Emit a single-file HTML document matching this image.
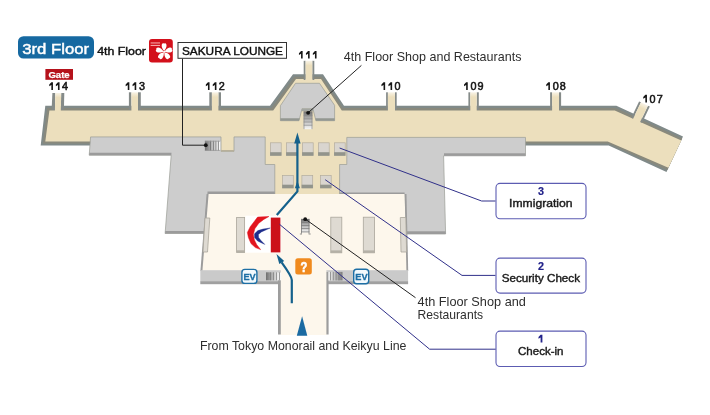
<!DOCTYPE html>
<html><head><meta charset="utf-8">
<style>
html,body{margin:0;padding:0;background:#fff;}
body{width:710px;height:415px;overflow:hidden;position:relative;font-family:"Liberation Sans",sans-serif;}
svg{position:absolute;left:0;top:0;display:block;will-change:transform;}
text{font-family:"Liberation Sans",sans-serif;}
</style></head><body>
<svg width="710" height="415" viewBox="0 0 710 415">
<defs>
<linearGradient id="chan" x1="0" y1="0" x2="0" y2="1">
<stop offset="0" stop-color="#f8f3e6"/><stop offset="0.25" stop-color="#ecdfbd"/><stop offset="1" stop-color="#ecdfbd"/>
</linearGradient>
<linearGradient id="escH" x1="0" y1="0" x2="1" y2="0">
<stop offset="0" stop-color="#6f6f6f"/><stop offset="0.35" stop-color="#a8a8a8"/><stop offset="0.75" stop-color="#e8e8e8"/><stop offset="1" stop-color="#fafafa"/>
</linearGradient>
<linearGradient id="escHr" x1="1" y1="0" x2="0" y2="0">
<stop offset="0" stop-color="#7a7a7a"/><stop offset="0.4" stop-color="#b0b0b0"/><stop offset="1" stop-color="#f4f4f4"/>
</linearGradient>
<linearGradient id="escV" x1="0" y1="0" x2="0" y2="1">
<stop offset="0" stop-color="#6a6a6a"/><stop offset="0.35" stop-color="#a8a8a8"/><stop offset="1" stop-color="#f6f6f6"/>
</linearGradient>
</defs>
<!-- concourse -->
<polygon fill="#808a89" points="45.3,105.8 270,105.8 293,74.3 323,74.3 344,105.8 616.4,105.8 683,136.6 666.5,172 608.7,145.6 40.7,145.6"/>
<polygon fill="#89897c" points="47.3,108 271.7,108 294.5,76.7 321.8,76.7 342.8,108 615.5,108 682.2,138.6 667.4,170 608.2,143.6 43,143.6"/>
<polygon fill="#ecdfbd" points="49.4,110.5 273.2,110.5 296,79.1 321,79.1 341.8,110.5 614.8,110.5 681.3,140.6 668.4,167.8 607.7,141.5 45.3,141.5"/>
<!-- jetways -->
<g fill="#858b89">
<rect x="128.9" y="92.3" width="2.5" height="17.7"/><rect x="138.0" y="92.3" width="2.8" height="17.7"/>
<rect x="209.3" y="92.3" width="2.6" height="17.7"/><rect x="218.4" y="92.3" width="2.6" height="17.7"/>
<rect x="303.7" y="60.8" width="1.9" height="19.2"/><rect x="312.3" y="60.8" width="2.0" height="19.2"/>
<rect x="386.1" y="92.3" width="1.8" height="17.7"/><rect x="395.0" y="92.3" width="1.7" height="17.7"/>
<rect x="468.4" y="92.3" width="1.9" height="17.7"/><rect x="476.7" y="92.3" width="2.1" height="17.7"/>
<rect x="550.1" y="92.3" width="2.0" height="17.7"/><rect x="559.0" y="92.3" width="2.1" height="17.7"/>
<polygon points="52.4,93 55.3,93 54.9,110 51.6,110"/><polygon points="61.2,93 64.3,93 63.9,110 60.8,110"/>
<g transform="translate(644.5,104) rotate(25.5)"><rect x="-6" y="0" width="2.1" height="18"/><rect x="3.8" y="0" width="2.1" height="18"/></g>
</g>
<g fill="url(#chan)">
<rect x="131.4" y="92.3" width="6.6" height="18.9"/>
<rect x="211.9" y="92.3" width="6.5" height="18.9"/>
<rect x="305.6" y="60.8" width="6.7" height="19.2"/>
<rect x="387.9" y="92.3" width="7.1" height="18.9"/>
<rect x="470.3" y="92.3" width="6.4" height="18.9"/>
<rect x="552.1" y="92.3" width="6.9" height="18.9"/>
<polygon points="55.3,93 61.2,93 60.8,111.2 54.9,111.2"/>
<g transform="translate(644.5,104) rotate(25.5)"><rect x="-3.9" y="0" width="7.7" height="19.6"/></g>
</g>
<!-- hump inner lounge -->
<polygon fill="#cdcdcd" stroke="#9a9c95" stroke-width="0.7" points="295.5,83.3 319.5,83.3 334.6,105.3 334.6,120.7 315.9,120.7 312.9,108.7 302,108.7 299,120.7 280.4,120.7 280.4,105.7"/>
<polygon fill="#939791" points="280.4,118.2 299.6,118.2 299,120.7 280.4,120.7"/>
<polygon fill="#939791" points="315.3,118.2 334.6,118.2 334.6,120.7 315.9,120.7"/>
<polygon fill="#a3a6a1" points="302,108.7 312.9,108.7 313.5,111.2 301.4,111.2"/>
<!-- escalator in notch -->
<rect x="303.7" y="111.4" width="8.6" height="17.8" fill="url(#escV)"/>
<g stroke="#8a8a8a" stroke-width="0.7">
<line x1="303.7" y1="115.5" x2="312.3" y2="115.5"/><line x1="303.7" y1="118.8" x2="312.3" y2="118.8"/>
<line x1="303.7" y1="122" x2="312.3" y2="122"/><line x1="303.7" y1="125.2" x2="312.3" y2="125.2"/>
<line x1="304" y1="111.4" x2="304" y2="129.2"/><line x1="312" y1="111.4" x2="312" y2="129.2"/>
</g>
<!-- central beige -->
<rect x="218" y="136" width="20" height="16.5" fill="#ecdfbd"/>
<rect x="262" y="136" width="88" height="60" fill="#ecdfbd"/>
<!-- left gray block -->
<polygon fill="#cdcdcd" stroke="#9a9c95" stroke-width="0.7" points="90.6,136.9 221,136.9 221,151.3 234,151.3 234,136.9 265.2,136.9 265.2,164.5 274.8,164.5 274.8,194 207.5,194 204.3,233.5 165.1,233.5 171.2,155.2 89.2,155.2"/>
<polygon fill="#9b9b9b" points="89.4,152.7 171.5,152.7 171.3,155.2 89.2,155.2"/>
<polygon fill="#9b9b9b" points="165.3,231 204.5,231 204.3,233.5 165.1,233.5"/>
<rect x="207.5" y="191.5" width="67.3" height="2.5" fill="#9b9b9b"/>
<rect x="221" y="150" width="13" height="1.5" fill="#b8b09a"/>
<!-- right gray block -->
<polygon fill="#cdcdcd" stroke="#9a9c95" stroke-width="0.7" points="346.8,137.4 525.5,137.4 525.5,155.8 443.6,155.8 445.6,234 404.6,234 404.6,195 339.6,195 339.6,164.5 346.8,164.5"/>
<rect x="444" y="153.3" width="81.5" height="2.5" fill="#9b9b9b"/>
<rect x="404.6" y="231.3" width="41" height="2.7" fill="#9b9b9b"/>
<rect x="339.6" y="192.5" width="65" height="2.5" fill="#9b9b9b"/>
<!-- squares -->
<g fill="#d9d5cf" stroke="#b3ad9e" stroke-width="0.7">
<rect x="270.4" y="142.8" width="10.8" height="12.6"/><rect x="286.4" y="142.8" width="10.8" height="12.6"/><rect x="302.4" y="142.8" width="10.8" height="12.6"/><rect x="318.4" y="142.8" width="10.8" height="12.6"/><rect x="334.4" y="142.8" width="10.8" height="12.6"/>
<rect x="282.5" y="175.4" width="10.8" height="12.5"/><rect x="301.9" y="175.4" width="10.8" height="12.5"/><rect x="320.4" y="175.4" width="10.8" height="12.5"/>
</g>
<g fill="#92948c">
<rect x="270.1" y="152.2" width="11.3" height="3.5"/><rect x="286.1" y="152.2" width="11.3" height="3.5"/><rect x="302.1" y="152.2" width="11.3" height="3.5"/><rect x="318.1" y="152.2" width="11.3" height="3.5"/><rect x="334.1" y="152.2" width="11.3" height="3.5"/>
<rect x="282.2" y="184.7" width="11.3" height="3.5"/><rect x="301.6" y="184.7" width="11.3" height="3.5"/><rect x="320.1" y="184.7" width="11.3" height="3.5"/>
</g>
<!-- escalator left (sakura) -->
<rect x="204.9" y="140.8" width="15.4" height="10" fill="url(#escH)"/>
<g stroke="#6e6e6e" stroke-width="0.8">
<line x1="210.5" y1="140.8" x2="210.5" y2="150.8"/><line x1="213.6" y1="140.8" x2="213.6" y2="150.8"/>
<line x1="215.9" y1="140.8" x2="215.9" y2="150.8"/><line x1="218.4" y1="140.8" x2="218.4" y2="150.8"/>
<line x1="204.9" y1="141.2" x2="220.3" y2="141.2" stroke="#999"/><line x1="204.9" y1="150.4" x2="220.3" y2="150.4" stroke="#999"/>
</g>
<!-- check-in hall -->
<polygon fill="#fdf7ec" points="208,194 404.6,194 407,270.5 201.5,270.5"/>
<line x1="207.6" y1="194" x2="201.4" y2="271" stroke="#9c9c9c" stroke-width="2"/>
<line x1="405.6" y1="194" x2="407.3" y2="271" stroke="#9c9c9c" stroke-width="1.8"/>
<!-- bottom band -->
<rect x="200.3" y="270.2" width="207.8" height="11.2" fill="#cacaca"/>
<rect x="200.3" y="281.2" width="207.8" height="3" fill="#a0a0a0"/>
<!-- corridor -->
<rect x="278" y="272" width="50.6" height="62.5" fill="#9d9d9d"/>
<rect x="280.8" y="269" width="45.6" height="66" fill="#fdf7ec"/>
<!-- pillars -->
<g fill="#dedad2" stroke="#aaa69c" stroke-width="0.8">
<polygon points="205,218 209.8,218 207.5,252 203,252"/>
<rect x="236.6" y="217.5" width="8" height="35"/>
<rect x="330.8" y="217.2" width="11" height="35.6"/>
<rect x="363.3" y="217.2" width="11.3" height="35.6"/>
<polygon points="400.3,217.5 405.8,217.5 406.6,252 401,252"/>
</g>
<g fill="#b4b0a6">
<rect x="236.6" y="250.3" width="8" height="2.3"/>
<rect x="330.8" y="250.4" width="11" height="2.4"/>
<rect x="363.3" y="250.4" width="11.3" height="2.4"/>
</g>
<!-- escalator in hall -->
<rect x="301.1" y="218.9" width="8.3" height="13.6" fill="url(#escV)"/>
<g stroke="#7a7a7a" stroke-width="0.8" fill="none">
<line x1="301.1" y1="222.6" x2="309.4" y2="222.6"/><line x1="301.1" y1="225.6" x2="309.4" y2="225.6"/>
<line x1="301.1" y1="228.6" x2="309.4" y2="228.6"/><line x1="301.1" y1="231.9" x2="309.4" y2="231.9"/>
<line x1="301.5" y1="218.9" x2="301.5" y2="233.6"/><line x1="309" y1="218.9" x2="309" y2="233.6"/>
<line x1="299.9" y1="234" x2="302" y2="234"/><line x1="308.6" y1="234" x2="310.7" y2="234"/>
</g>
<!-- stairs icons -->
<rect x="266" y="272.3" width="15.2" height="8" fill="url(#escH)"/>
<g stroke="#777" stroke-width="0.7">
<line x1="270.5" y1="272.3" x2="270.5" y2="280.3"/><line x1="273.5" y1="272.3" x2="273.5" y2="280.3"/>
<line x1="276.5" y1="272.3" x2="276.5" y2="280.3"/><line x1="279.5" y1="272.3" x2="279.5" y2="280.3"/>
</g>
<rect x="328.4" y="271.9" width="14.1" height="8.5" fill="url(#escHr)"/>
<g stroke="#777" stroke-width="0.7">
<line x1="330.5" y1="271.9" x2="330.5" y2="280.4"/><line x1="333.3" y1="271.9" x2="333.3" y2="280.4"/>
<line x1="336.1" y1="271.9" x2="336.1" y2="280.4"/><line x1="338.9" y1="271.9" x2="338.9" y2="280.4"/>
</g>
<!-- EV icons -->
<rect x="241.9" y="269.4" width="15" height="14" rx="3" fill="#f2f9fd" stroke="#1d6fa5" stroke-width="1.4"/>
<text x="249.6" y="279.9" font-size="9.2" font-weight="bold" fill="#1d6fa5" stroke="#1d6fa5" stroke-width="0.3" text-anchor="middle" textLength="12.3" lengthAdjust="spacingAndGlyphs">EV</text>
<rect x="353.7" y="269.2" width="15" height="14.6" rx="3" fill="#f2f9fd" stroke="#1d6fa5" stroke-width="1.4"/>
<text x="361.4" y="279.9" font-size="9.2" font-weight="bold" fill="#1d6fa5" stroke="#1d6fa5" stroke-width="0.3" text-anchor="middle" textLength="12.3" lengthAdjust="spacingAndGlyphs">EV</text>
<!-- question icon -->
<rect x="295.3" y="258.2" width="16.5" height="16.3" rx="2.5" fill="#f08a1e"/>
<text x="304" y="272.3" font-size="15" font-weight="bold" fill="#fff" stroke="#fff" stroke-width="0.7" text-anchor="middle" textLength="6.8" lengthAdjust="spacingAndGlyphs">?</text>
<!-- China Eastern logo -->
<rect x="245.3" y="215.7" width="35.9" height="37" fill="#fff"/>
<rect x="270.8" y="217.6" width="9.6" height="34.8" fill="#cc111a"/>
<path d="M268.9,216.5 L257.6,217.1 L250.2,226.8 L247.4,232.4 L248.4,237.5 L251,243.6 L255.4,247.6 L260.6,249.6 L256.8,244.8 L254.4,240 L253.4,234.4 L254.8,228.8 L258.8,223.2 L263.8,219.4 Z" fill="#e2141e" stroke="#e2141e" stroke-width="0.5" stroke-linejoin="round"/>
<path d="M270.2,228 L263,229.1 L257.9,230.6 L254.5,233.8 L254.6,237.6 L257.6,241 L264.8,244.4 L261,240.6 L258.6,237.4 L258.4,234.6 L261.4,231.9 Z" fill="#1e2d8c" stroke="#1e2d8c" stroke-width="0.4" stroke-linejoin="round"/>
<!-- arrows -->
<g fill="none" stroke="#15618c" stroke-width="2.2">
<polyline points="276.8,214.9 297.4,191.4 297.4,142"/>
<path d="M291.8,303.2 L291.8,280 C291.8,276.5 287.5,270.5 281.6,262.4"/>
</g>
<g fill="#15618c">
<polygon points="297.4,132.5 300.6,143.6 294.2,143.6"/>
<polygon points="297.4,180.8 299.9,188.2 294.9,188.2"/>
<polygon points="276.5,254 284.2,261.1 279.3,264"/>
</g>
<polygon fill="#1a6aa2" points="302.1,316.2 307.3,335.7 296.8,335.7"/>
<!-- leader lines -->
<g fill="none" stroke-width="1">
<polyline stroke="#30308a" points="339.6,148 481.6,201 495.5,201"/>
<polyline stroke="#30308a" points="325.2,179.7 462,275.4 495.5,275.4"/>
<polyline stroke="#30308a" points="279.5,224.3 429.6,349.2 495.8,349.2"/>
<polyline stroke="#222" points="305.2,219 415.5,297.7"/>
<polyline stroke="#222" points="308.1,112.8 361.4,65.4"/>
<polyline stroke="#222" points="182.5,58.5 182.5,145.2 205.7,145.2"/>
</g>
<circle cx="305.2" cy="219.2" r="1.9" fill="#111"/>
<circle cx="308.1" cy="112.8" r="1.9" fill="#111"/>
<circle cx="205.8" cy="145.2" r="1.9" fill="#111"/>
<!-- header -->
<rect x="18" y="36.2" width="76" height="22.3" rx="5.5" fill="#1669a1"/>
<text x="22.2" y="53.5" font-size="15.3" fill="#fff" stroke="#fff" stroke-width="0.45" textLength="67" lengthAdjust="spacingAndGlyphs">3rd Floor</text>
<text x="97.2" y="54.7" font-size="10.9" fill="#111" stroke="#111" stroke-width="0.4" textLength="48.8" lengthAdjust="spacingAndGlyphs">4th Floor</text>
<!-- sakura logo -->
<rect x="149" y="38.9" width="23.8" height="23.6" rx="3" fill="#d3101b"/>
<g fill="#fff" transform="translate(164.1,51.7)">
<path d="M0,-0.6 C-1.3,-1.9 -2.7,-4.4 -2.4,-6.6 C-2.1,-8.3 -0.9,-8.7 0,-8.0 C0.9,-8.7 2.1,-8.3 2.4,-6.6 C2.7,-4.4 1.3,-1.9 0,-0.6 Z" transform="rotate(0)"/>
<path d="M0,-0.6 C-1.3,-1.9 -2.7,-4.4 -2.4,-6.6 C-2.1,-8.3 -0.9,-8.7 0,-8.0 C0.9,-8.7 2.1,-8.3 2.4,-6.6 C2.7,-4.4 1.3,-1.9 0,-0.6 Z" transform="rotate(74)"/>
<path d="M0,-0.6 C-1.3,-1.9 -2.7,-4.4 -2.4,-6.6 C-2.1,-8.3 -0.9,-8.7 0,-8.0 C0.9,-8.7 2.1,-8.3 2.4,-6.6 C2.7,-4.4 1.3,-1.9 0,-0.6 Z" transform="rotate(144)"/>
<path d="M0,-0.6 C-1.3,-1.9 -2.7,-4.4 -2.4,-6.6 C-2.1,-8.3 -0.9,-8.7 0,-8.0 C0.9,-8.7 2.1,-8.3 2.4,-6.6 C2.7,-4.4 1.3,-1.9 0,-0.6 Z" transform="rotate(216)"/>
<path d="M0,-0.6 C-1.3,-1.9 -2.7,-4.4 -2.4,-6.6 C-2.1,-8.3 -0.9,-8.7 0,-8.0 C0.9,-8.7 2.1,-8.3 2.4,-6.6 C2.7,-4.4 1.3,-1.9 0,-0.6 Z" transform="rotate(286)"/>
<circle r="1.0"/>
</g>
<rect x="150.6" y="42.4" width="9.4" height="1.1" fill="#f4a6a6"/>
<rect x="150.6" y="44.9" width="9.4" height="1.1" fill="#f4a6a6"/>
<rect x="178" y="42.5" width="108.5" height="15.8" fill="#fff" stroke="#333" stroke-width="1"/>
<text x="182" y="54.8" font-size="11.6" fill="#111" stroke="#111" stroke-width="0.42" textLength="101" lengthAdjust="spacingAndGlyphs">SAKURA LOUNGE</text>
<!-- gate -->
<rect x="45.4" y="69" width="27.6" height="10.8" fill="#b5121b"/>
<text x="48.4" y="78.1" font-size="9.6" font-weight="bold" fill="#fff" stroke="#fff" stroke-width="0.25" textLength="21.3" lengthAdjust="spacingAndGlyphs">Gate</text>
<!-- gate numbers -->
<g fill="#161616">
<path d="M51.35,82.20 h1.6 v7.70 h-1.6 v-4.80 l-2.1,1.25 v-1.75 Z"/>
<path d="M57.95,82.20 h1.6 v7.70 h-1.6 v-4.80 l-2.1,1.25 v-1.75 Z"/>
<text x="61.90" y="89.90" font-size="10.8" stroke="#161616" stroke-width="0.55">4</text>
<path d="M127.75,82.20 h1.6 v7.70 h-1.6 v-4.80 l-2.1,1.25 v-1.75 Z"/>
<path d="M134.65,82.20 h1.6 v7.70 h-1.6 v-4.80 l-2.1,1.25 v-1.75 Z"/>
<text x="138.90" y="89.90" font-size="10.8" stroke="#161616" stroke-width="0.55">3</text>
<path d="M207.95,82.20 h1.6 v7.70 h-1.6 v-4.80 l-2.1,1.25 v-1.75 Z"/>
<path d="M214.85,82.20 h1.6 v7.70 h-1.6 v-4.80 l-2.1,1.25 v-1.75 Z"/>
<text x="218.80" y="89.90" font-size="10.8" stroke="#161616" stroke-width="0.55">2</text>
<path d="M301.05,50.90 h1.6 v7.70 h-1.6 v-4.80 l-2.1,1.25 v-1.75 Z"/>
<path d="M308.05,50.90 h1.6 v7.70 h-1.6 v-4.80 l-2.1,1.25 v-1.75 Z"/>
<path d="M314.95,50.90 h1.6 v7.70 h-1.6 v-4.80 l-2.1,1.25 v-1.75 Z"/>
<path d="M383.55,82.20 h1.6 v7.70 h-1.6 v-4.80 l-2.1,1.25 v-1.75 Z"/>
<path d="M390.55,82.20 h1.6 v7.70 h-1.6 v-4.80 l-2.1,1.25 v-1.75 Z"/>
<text x="394.60" y="89.90" font-size="10.8" stroke="#161616" stroke-width="0.55">0</text>
<path d="M466.15,82.20 h1.6 v7.70 h-1.6 v-4.80 l-2.1,1.25 v-1.75 Z"/>
<text x="470.50 477.60" y="89.90" font-size="10.8" stroke="#161616" stroke-width="0.55">09</text>
<path d="M548.35,82.20 h1.6 v7.70 h-1.6 v-4.80 l-2.1,1.25 v-1.75 Z"/>
<text x="552.70 559.70" y="89.90" font-size="10.8" stroke="#161616" stroke-width="0.55">08</text>
<path d="M645.35,94.70 h1.6 v7.90 h-1.6 v-5.00 l-2.1,1.25 v-1.75 Z"/>
<text x="649.50 656.70" y="102.60" font-size="10.8" stroke="#161616" stroke-width="0.55">07</text>
</g>
<!-- labels -->
<g fill="#2e2e2e">
<text x="343.8" y="61.4" font-size="12.1" textLength="177.6" lengthAdjust="spacingAndGlyphs">4th Floor Shop and Restaurants</text>
<text x="417.6" y="305.9" font-size="12.1" textLength="108.3" lengthAdjust="spacingAndGlyphs">4th Floor Shop and</text>
<text x="417.6" y="318.6" font-size="12.1" textLength="65.5" lengthAdjust="spacingAndGlyphs">Restaurants</text>
<text x="199.9" y="350.3" font-size="12.6" textLength="206.5" lengthAdjust="spacingAndGlyphs">From Tokyo Monorail and Keikyu Line</text>
</g>
<!-- boxes -->
<g fill="#fff" stroke="#5c5cb2" stroke-width="1.1">
<rect x="496" y="183.4" width="90" height="35.4" rx="4"/>
<rect x="496" y="258.1" width="90" height="35" rx="4"/>
<rect x="496" y="331.1" width="90" height="35.4" rx="4"/>
</g>
<g text-anchor="middle">
<g font-size="10.8" font-weight="bold" fill="#23238a" stroke="#23238a" stroke-width="0.2">
<text x="541" y="194.7">3</text>
<text x="541" y="269.5">2</text>

</g>
<path d="M540.6,334.7 h1.8 v7.8 h-1.8 v-4.9 l-2.1,1.25 v-1.75 Z" fill="#23238a"/>
<g font-size="10.4" fill="#1a1a1a" stroke="#1a1a1a" stroke-width="0.38">
<text x="540.85" y="207.2" textLength="63.5" lengthAdjust="spacingAndGlyphs">Immigration</text>
<text x="540.85" y="281.8" textLength="78.3" lengthAdjust="spacingAndGlyphs">Security Check</text>
<text x="540.75" y="354.5" textLength="45.5" lengthAdjust="spacingAndGlyphs">Check-in</text>
</g>
</g>
</svg>
</body></html>
